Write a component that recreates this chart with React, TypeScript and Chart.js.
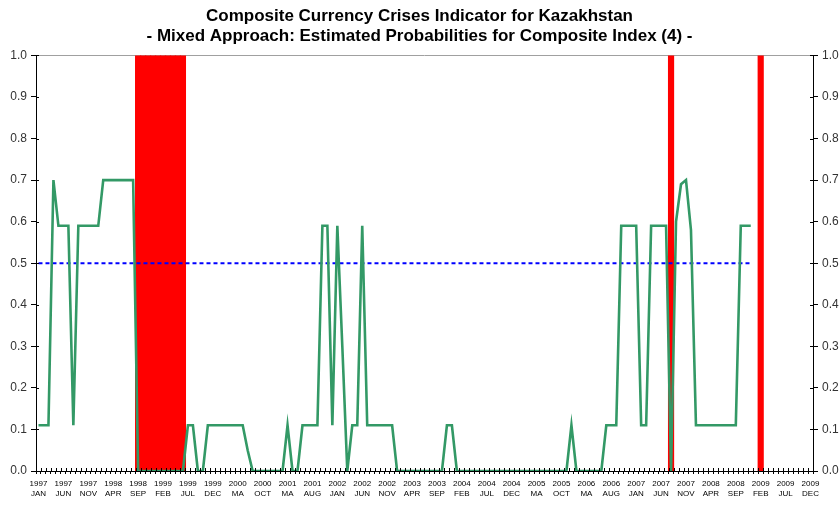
import React, { useEffect, useRef } from 'react';
import { Chart, registerables } from 'chart.js';

Chart.register(...registerables);

const TITLE_LINES = [
  'Composite Currency Crises Indicator for Kazakhstan',
  '- Mixed Approach: Estimated Probabilities for Composite Index (4) -',
];

const YEARS = [1997, 1998, 1999, 2000, 2001, 2002, 2003, 2004, 2005, 2006, 2007, 2008, 2009];
const MONTHS = ['JAN', 'FEB', 'MA', 'APR', 'MA', 'JUN', 'JUL', 'AUG', 'SEP', 'OCT', 'NOV', 'DEC'];
const LABEL_EVERY = 5;

// Estimated probability of a currency crisis, monthly from Jan 1997
const PROBABILITY: (number | null)[] = [
  0.11, 0.11, 0.11, 0.70, 0.59, 0.59, 0.59, 0.11, 0.59, 0.59,
  0.59, 0.59, 0.59, 0.70, 0.70, 0.70, 0.70, 0.70, 0.70, 0.70,
  0, 0, 0, 0, 0, 0, 0, 0, 0, 0,
  0.11, 0.11, 0, 0, 0.11, 0.11, 0.11, 0.11, 0.11, 0.11,
  0.11, 0.11, 0.05, 0, 0, 0, 0, 0, 0, 0,
  0.11, 0, 0, 0.11, 0.11, 0.11, 0.11, 0.59, 0.59, 0.11,
  0.59, 0.30, 0, 0.11, 0.11, 0.59, 0.11, 0.11, 0.11, 0.11,
  0.11, 0.11, 0, 0, 0, 0, 0, 0, 0, 0,
  0, 0, 0.11, 0.11, 0, 0, 0, 0, 0, 0,
  0, 0, 0, 0, 0, 0, 0, 0, 0, 0,
  0, 0, 0, 0, 0, 0, 0, 0.11, 0, 0,
  0, 0, 0, 0, 0.11, 0.11, 0.11, 0.59, 0.59, 0.59,
  0.59, 0.11, 0.11, 0.59, 0.59, 0.59, 0.59, 0, 0.60, 0.69,
  0.70, 0.58, 0.11, 0.11, 0.11, 0.11, 0.11, 0.11, 0.11, 0.11,
  0.11, 0.59, 0.59, 0.59,
  null, null, null, null, null, null, null, null, null, null, null, null,
];

const THRESHOLD = 0.5;
const THRESHOLD_MONTHS = 144;

// Crisis months (index from Jan 1997)
const CRISIS_MONTHS = [20, 21, 22, 23, 24, 25, 26, 27, 28, 29, 127, 145];
const CRISIS_LEVEL = 1.0;

const FONT = '"Liberation Sans", Arial, sans-serif';

const axisDecor = {
  id: 'axisDecor',
  beforeDatasetsDraw(chart: any) {
    const { ctx, chartArea } = chart;
    const { left, right, top } = chartArea;
    ctx.save();
    ctx.lineWidth = 1;
    ctx.strokeStyle = '#a0a0a0';
    ctx.beginPath();
    ctx.moveTo(left, Math.round(top) + 0.5);
    ctx.lineTo(right, Math.round(top) + 0.5);
    ctx.stroke();
    ctx.restore();
  },
  afterDraw(chart: any) {
    const { ctx, chartArea, scales } = chart;
    const { left, right, bottom } = chartArea;
    ctx.save();
    ctx.lineWidth = 1;
    ctx.strokeStyle = '#000';
    ctx.beginPath();
    const xs = scales.x;
    const n = xs.getLabels().length;
    const step = xs.getPixelForValue(1) - xs.getPixelForValue(0);
    for (let k = 0; k <= n; k++) {
      const px = Math.round(xs.getPixelForValue(k) - step / 2) + 0.5;
      ctx.moveTo(px, bottom);
      ctx.lineTo(px, bottom - 3);
    }
    ['y', 'y2'].forEach((id) => {
      const s = scales[id];
      const ax = id === 'y' ? left : right;
      const dir = id === 'y' ? 1 : -1;
      s.ticks.forEach((t: any) => {
        const py = Math.round(s.getPixelForValue(t.value)) + 0.5;
        ctx.moveTo(ax, py);
        ctx.lineTo(ax + dir * 3, py);
      });
    });
    ctx.stroke();
    ctx.restore();
  },
};

export default function App() {
  const ref = useRef<HTMLCanvasElement>(null);

  useEffect(() => {
    if (!ref.current) return;
    const labels: string[][] = [];
    YEARS.forEach((y) => MONTHS.forEach((m) => labels.push([String(y), m])));
    const crisis = labels.map((_, i) => (CRISIS_MONTHS.includes(i) ? CRISIS_LEVEL : null));
    const threshold = labels.map((_, i) => (i < THRESHOLD_MONTHS ? THRESHOLD : null));

    const yAxis = (position: 'left' | 'right', width: number) => ({
      position,
      min: 0,
      max: 1,
      ticks: {
        stepSize: 0.1,
        padding: 4,
        color: '#333',
        font: { family: FONT, size: 12 },
        callback: (v: any) => Number(v).toFixed(1),
      },
      grid: { drawOnChartArea: false, tickLength: 5, color: '#000' },
      border: { color: '#000', width: 1 },
      afterFit: (s: any) => {
        s.width = width;
      },
    });

    const chart = new Chart(ref.current, {
      type: 'bar',
      data: {
        labels,
        datasets: [
          {
            type: 'line',
            data: PROBABILITY,
            borderColor: '#339966',
            borderWidth: 2.6,
            pointRadius: 0,
            tension: 0,
            spanGaps: false,
            order: 1,
          } as any,
          {
            type: 'line',
            data: threshold,
            borderColor: '#0000ff',
            borderWidth: 2,
            borderDash: [4, 3],
            pointRadius: 0,
            order: 2,
          } as any,
          {
            type: 'bar',
            data: crisis,
            backgroundColor: '#ff0000',
            borderWidth: 0,
            barPercentage: 1,
            categoryPercentage: 1,
            inflateAmount: 0.6,
            order: 3,
          } as any,
        ],
      },
      options: {
        animation: false,
        responsive: false,
        layout: { padding: 0 },
        plugins: {
          legend: { display: false },
          tooltip: { enabled: false },
          title: {
            display: true,
            text: TITLE_LINES,
            color: '#000',
            font: { family: FONT, size: 17, weight: 'bold', lineHeight: 1.13 },
            padding: { top: 7, bottom: 10 },
          },
        },
        scales: {
          x: {
            type: 'category',
            offset: true,
            grid: { offset: true, drawOnChartArea: false, tickLength: 3, color: '#000' },
            border: { color: '#000', width: 1 },
            ticks: {
              autoSkip: false,
              maxRotation: 0,
              minRotation: 0,
              padding: 5,
              color: '#000',
              font: { family: FONT, size: 8 },
              callback: (_v: any, i: number) => (i % LABEL_EVERY === 0 ? labels[i] : ''),
            },
            afterFit: (s: any) => {
              s.height = 34;
            },
          },
          y: yAxis('left', 36),
          y2: yAxis('right', 26),
        } as any,
      },
      plugins: [axisDecor],
    });
    return () => chart.destroy();
  }, []);

  return (
    <div style={{ position: 'absolute', left: 0, top: 0, width: 839, height: 505, background: '#fff' }}>
      <canvas ref={ref} width={839} height={505} style={{ display: 'block' }} />
    </div>
  );
}
